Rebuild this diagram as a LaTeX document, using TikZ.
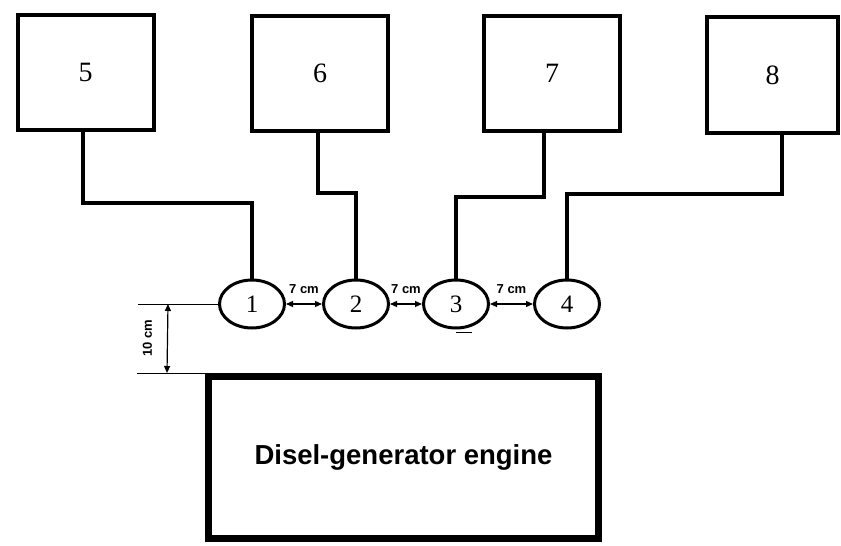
\documentclass[tikz,border=0pt]{standalone}
\usepackage{fontspec}
\setmainfont{Liberation Serif}
\setsansfont{Liberation Sans}
\usetikzlibrary{arrows.meta,shapes.geometric}

\begin{document}
\begin{tikzpicture}[
    x=1pt,y=-1pt,
    every node/.style={font=\fontsize{28}{30}\selectfont},
    unit/.style={draw, line width=4pt, minimum width=136pt, minimum height=115pt, inner sep=0pt},
    sensor/.style={draw, ellipse, line width=3pt, minimum width=65pt, minimum height=48pt, inner sep=0pt, font=\fontsize{25}{27}\selectfont},
    wire/.style={line width=4pt},
    gap/.style={{Triangle[length=7pt,width=6pt]}-{Triangle[length=7pt,width=6pt]}, line width=1.2pt},
    tag/.style={font=\sffamily\bfseries\fontsize{13}{15}\selectfont},
    engine/.style={draw, line width=7pt, minimum width=390pt, minimum height=162pt, font=\sffamily\bfseries\fontsize{27.5}{30}\selectfont}
]
    \useasboundingbox (0,0) rectangle (841,546);

    % consumers
    \node[unit] (b5) at (85.5,72.5) {5};
    \node[unit] (b6) at (320,73.5) {6};
    \node[unit] (b7) at (552,73.5) {7};
    \node[unit, minimum width=131pt, minimum height=116pt] (b8) at (772.5,75) {8};

    % measuring points
    \node[sensor] (e1) at (252,304) {1};
    \node[sensor] (e2) at (356,304) {2};
    \node[sensor] (e3) at (456,304) {3};
    \node[sensor] (e4) at (567,304) {4};
    \draw[line width=1.3pt] ([shift={(0pt,-3pt)}]e3.south) -- ++(16,0);

    \node[engine] (eng) at (403.5,457.5) {Disel-generator engine};

    % wiring
    \draw[wire] ([xshift=-2.5pt]b5.south) -- ++(0,71) -| (e1.north);
    \draw[wire] ([xshift=-2pt]b6.south) -- ++(0,60) -| (e2.north);
    \draw[wire] ([xshift=-8pt]b7.south) -- ++(0,64) -| (e3.north);
    \draw[wire] ([xshift=9.5pt]b8.south) -- ++(0,59) -| (e4.north);

    % spacing
    \draw[gap] (e1.east) -- (e2.west) node[tag, midway, above=6pt] {7 cm};
    \draw[gap] (e2.east) -- (e3.west) node[tag, midway, above=6pt] {7 cm};
    \draw[gap] (e3.east) -- (e4.west) node[tag, midway, above=6pt] {7 cm};

    \draw[thin] (e1.west) -- ++(-80,0) coordinate (dimtop);
    \draw[thin] (eng.north west) -- ++(-68,0) coordinate (dimbot);
    \draw[gap] ([xshift=30pt]dimtop) -- ([xshift=30pt]dimbot);
    \path ([xshift=10pt]dimtop) -- ([xshift=10pt]dimbot) node[tag, midway, rotate=90] (dimlabel) {10 cm};
\end{tikzpicture}
\end{document}
